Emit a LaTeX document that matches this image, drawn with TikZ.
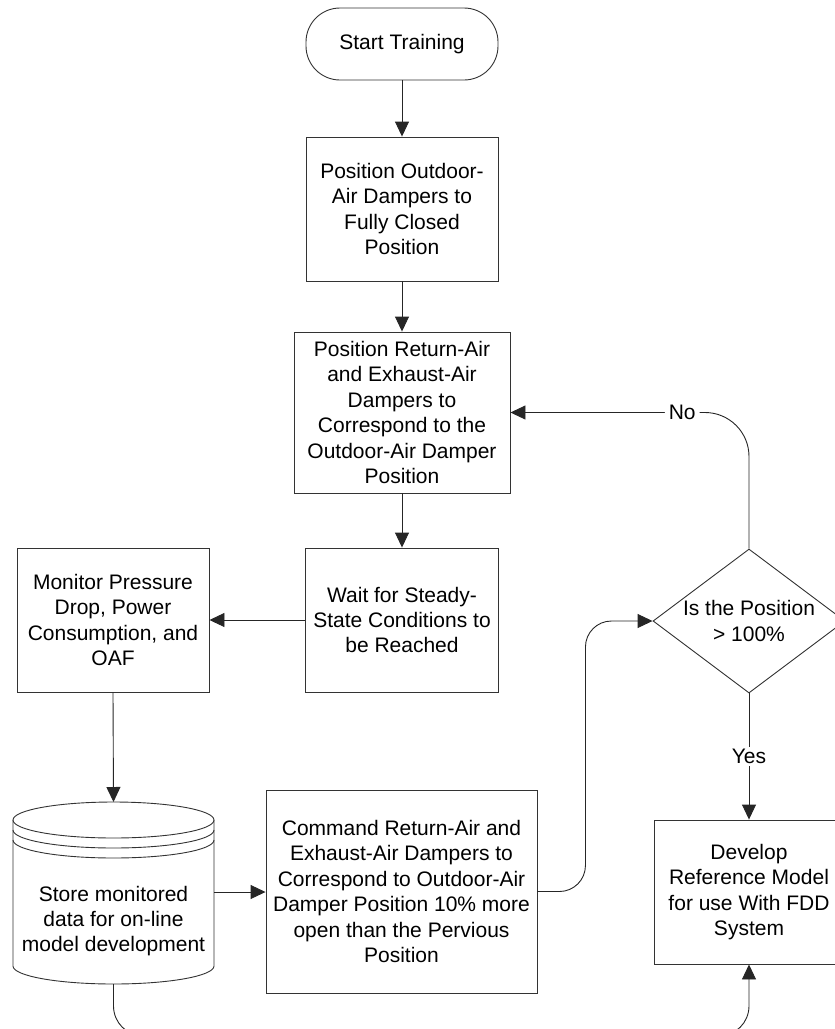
\documentclass[tikz,border=0pt]{standalone}
\usepackage{fontspec}
\setmainfont{Liberation Sans}
\usetikzlibrary{shapes.geometric, arrows.meta}
\begin{document}
\begin{tikzpicture}[x=1pt, y=-1pt,
  every node/.style={font=\fontsize{21}{25.4}\selectfont, align=center, inner sep=0pt},
  edge/.style={line width=0.9pt, draw=black!85},
  procbox/.style={draw=black!80, line width=0.9pt},
  terminal/.style={draw=black!80, line width=0.9pt, rounded corners=34pt,
    minimum width=192pt, minimum height=72pt},
  decision/.style={diamond, draw=black!80, line width=0.9pt,
    minimum width=192pt, minimum height=144pt},
  arr/.style={edge, -{Triangle[length=15pt, width=14pt]}},
  flowlabel/.style={fill=white, inner xsep=4pt, inner ysep=2pt}]

\useasboundingbox (0,0) rectangle (835,1029);
\clip (0,0) rectangle (835,1029);

% main column
\node[terminal] (start) at (402,44) {Start Training};
\node[procbox, minimum width=192pt, minimum height=144pt] (outdoor) at (402,209)
  {Position Outdoor-\\Air Dampers to\\Fully Closed\\Position};
\node[procbox, minimum width=216pt, minimum height=161pt] (ret) at (402,412.5)
  {Position Return-Air\\and Exhaust-Air\\Dampers to\\Correspond to the\\Outdoor-Air Damper\\Position};
\node[procbox, minimum width=193pt, minimum height=144pt] (wait) at (402,620)
  {Wait for Steady-\\State Conditions to\\be Reached};
\node[procbox, minimum width=192pt, minimum height=144pt] (monitor) at (113,620)
  {Monitor Pressure\\Drop, Power\\Consumption, and\\OAF};
\node[procbox, minimum width=271pt, minimum height=203pt] (command) at (401.5,891.5)
  {Command Return-Air and\\Exhaust-Air Dampers to\\Correspond to Outdoor-Air\\Damper Position 10\% more\\open than the Pervious\\Position};

% decision and final step
\node[decision, label={[align=center]center:Is the Position\\> 100\%}] (dec) at (749,621) {};
\node[procbox, minimum width=190pt, minimum height=144pt] (develop) at (749,892)
  {Develop\\Reference Model\\for use With FDD\\System};

% data store (stacked-disk cylinder)
\coordinate (cyltop) at (113.5,802);
\coordinate (cylright) at (214,892);
\coordinate (cylbot) at (113.5,984);
\draw[procbox] (13,820) -- (13,966)
  arc[start angle=180, end angle=360, x radius=100.5pt, y radius=18pt] -- (214,820);
\draw[procbox] (113.5,820) ellipse[x radius=100.5pt, y radius=18pt];
\draw[procbox] (13,830) arc[start angle=180, end angle=360, x radius=100.5pt, y radius=18pt];
\draw[procbox] (13,840) arc[start angle=180, end angle=360, x radius=100.5pt, y radius=18pt];
\node (store) at (113.5,921) {Store monitored\\data for on-line\\model development};

% connectors
\draw[arr] (start) -- (outdoor);
\draw[arr] (outdoor) -- (ret);
\draw[arr] (ret) -- (wait);
\draw[arr] (wait) -- (monitor);
\draw[arr] (monitor.south) -- (cyltop);
\draw[arr] (cylright) -- (cylright -| command.west);
\draw[arr, rounded corners=26pt] (command.east) -- ++(48,0) |- (dec.west);
\draw[arr, rounded corners=44pt] (dec.north) |- node[flowlabel, pos=0.64] {No} (ret.east);
\draw[arr] (dec.south) -- node[flowlabel] {Yes} (develop.north);
\draw[arr, rounded corners=30pt] (cylbot) -- ++(0,52) -| (develop.south);
\end{tikzpicture}
\end{document}
